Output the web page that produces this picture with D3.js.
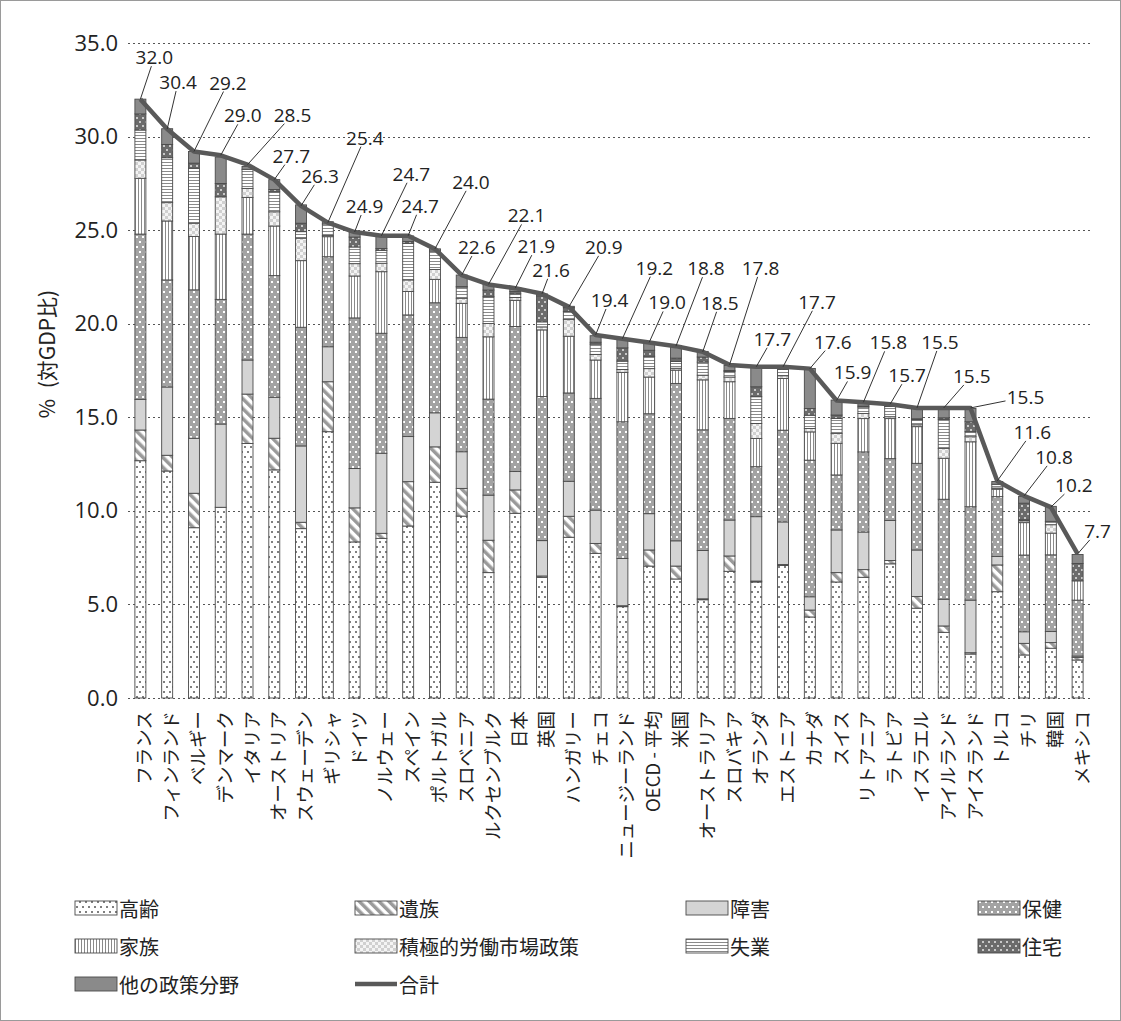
<!DOCTYPE html>
<html><head><meta charset="utf-8">
<script src="https://cdn.jsdelivr.net/npm/d3@7"></script>
<style>
html,body{margin:0;padding:0;background:#fff;}
svg{display:block;}
</style></head>
<body>
<svg id="chart" width="1121" height="1021"></svg>
<script>
const countries = ["フランス","フィンランド","ベルギー","デンマーク","イタリア","オーストリア","スウェーデン","ギリシャ","ドイツ","ノルウェー","スペイン","ポルトガル","スロベニア","ルクセンブルク","日本","英国","ハンガリー","チェコ","ニュージーランド","OECD - 平均","米国","オーストラリア","スロバキア","オランダ","エストニア","カナダ","スイス","リトアニア","ラトビア","イスラエル","アイルランド","アイスランド","トルコ","チリ","韓国","メキシコ"];
const totals = [32.0,30.4,29.2,29.0,28.5,27.7,26.3,25.4,24.9,24.7,24.7,24.0,22.6,22.1,21.9,21.6,20.9,19.4,19.2,19.0,18.8,18.5,17.8,17.7,17.7,17.6,15.9,15.8,15.7,15.5,15.5,15.5,11.6,10.8,10.2,7.7];
const oldAge =       [12.68,12.13,9.10,10.19,13.60,12.19,9.05,14.23,8.34,8.53,9.19,11.53,9.72,6.70,9.87,6.45,8.59,7.73,4.88,7.05,6.36,5.25,6.77,6.20,7.08,4.33,6.20,6.45,7.17,4.80,3.51,2.35,5.68,2.30,2.66,2.03];
const survivors =    [1.64,0.84,1.84,0.00,2.64,1.69,0.34,2.67,1.82,0.27,2.37,1.89,1.48,1.73,1.25,0.07,1.12,0.53,0.05,0.86,0.69,0.05,0.82,0.05,0.05,0.37,0.50,0.41,0.18,0.62,0.34,0.07,1.43,0.62,0.30,0.14];
const disability =   [1.64,3.65,2.94,4.45,1.82,2.19,4.08,1.87,2.10,4.28,2.41,1.82,1.96,2.41,0.98,1.89,1.87,1.78,2.53,1.94,1.35,2.58,1.92,3.44,2.28,0.71,2.28,2.01,2.14,2.49,1.43,2.81,0.45,0.62,0.59,0.07];
const health =       [8.83,5.72,7.93,6.66,6.73,6.50,6.34,4.81,8.05,6.41,6.50,5.88,6.11,5.13,7.75,7.70,4.72,5.97,7.30,5.34,8.41,6.45,5.43,2.67,4.90,7.30,2.94,4.28,3.30,4.63,5.34,4.99,3.20,4.10,4.10,2.99];
const family =       [2.98,3.15,2.85,3.49,1.96,2.65,3.56,1.07,2.24,3.29,1.25,1.25,1.82,3.33,1.40,3.56,3.03,2.05,2.64,1.96,0.71,2.67,1.96,1.51,2.76,1.51,1.69,1.78,2.14,1.96,2.19,3.47,0.40,1.73,1.16,1.03];
const almp =         [0.98,0.98,0.71,1.99,0.48,0.76,1.20,0.06,0.66,0.45,0.62,0.53,0.27,0.71,0.15,0.16,0.89,0.30,0.15,0.45,0.10,0.25,0.25,0.80,0.15,0.18,0.53,0.27,0.10,0.10,0.53,0.27,0.06,0.10,0.45,0.00];
const unemployment = [1.60,2.40,2.94,0.00,1.02,1.07,0.35,0.62,0.89,0.69,1.96,0.98,0.60,1.43,0.20,0.27,0.44,0.55,0.45,0.66,0.36,0.70,0.30,1.43,0.35,0.71,0.80,0.35,0.55,0.27,1.55,0.27,0.20,0.05,0.18,0.00];
const housing =      [0.86,0.71,0.27,0.71,0.00,0.12,0.45,0.00,0.53,0.10,0.10,0.00,0.02,0.36,0.12,1.39,0.20,0.10,0.71,0.32,0.18,0.27,0.05,0.53,0.02,0.36,0.18,0.05,0.02,0.05,0.08,0.53,0.00,0.89,0.00,0.93];
const other =        [0.79,0.84,0.62,1.42,0.15,0.53,0.98,0.12,0.27,0.71,0.29,0.12,0.62,0.30,0.20,0.10,0.07,0.35,0.45,0.41,0.68,0.30,0.27,1.07,0.10,2.14,0.80,0.20,0.10,0.62,0.53,0.71,0.15,0.36,0.80,0.48];
const seriesNames = ["高齢","遺族","障害","保健","家族","積極的労働市場政策","失業","住宅","他の政策分野"];
const totalName = "合計";
const yTicks = [0,5,10,15,20,25,30,35];
const yTitle = "%\u2002(対GDP比)";

// label placement (pixel offsets of value label centre from the line point)
const labelOffsets = [[14,-42],[11,-47],[34,-69],[22,-40],[45,-50],[17,-24],[19,-30],[37,-85],[10,-26],[30,-62],[12,-30],[36,-67],[15,-28],[38,-69],[21,-42],[9,-24],[35,-60],[14,-35],[32,-71],[18,-40],[30,-78],[17,-49],[31,-97],[16,-28],[34,-65],[23,-27],[16,-28],[25,-60],[17,-29],[23,-66],[28,-32],[55,-11],[35,-49],[30,-39],[23,-22],[20,-23]];

const seriesData = [oldAge,survivors,disability,health,family,almp,unemployment,housing,other];
const keys = seriesNames;
const rows = countries.map((c,i)=>{const o={country:c}; keys.forEach((k,j)=>o[k]=seriesData[j][i]); return o;});

const svg = d3.select("#chart");
const defs = svg.append("defs");
const numFont = "'Open Sans','Noto Sans',sans-serif";
const jpFont = "'Noto Sans CJK JP','Noto Sans',sans-serif";

function pat(id,w,h,bg,draw,transform){
  const p = defs.append("pattern").attr("id",id).attr("patternUnits","userSpaceOnUse").attr("width",w).attr("height",h);
  if(transform) p.attr("patternTransform",transform);
  p.append("rect").attr("width",w).attr("height",h).attr("fill",bg);
  draw(p);
}
pat("p0",6,10,"#fff",p=>{p.append("rect").attr("x",1).attr("y",1).attr("width",2).attr("height",2).attr("fill","#7f7f7f");p.append("rect").attr("x",4).attr("y",6).attr("width",2).attr("height",2).attr("fill","#7f7f7f");});
pat("p1",7,7,"#fff",p=>{p.append("rect").attr("x",0).attr("y",0).attr("width",3.5).attr("height",7).attr("fill","#9a9a9a");},"rotate(-45)");
pat("p2",4,4,"#d4d4d4",p=>{});
pat("p3",6,10,"#a3a3a3",p=>{p.append("rect").attr("x",1).attr("y",1).attr("width",2).attr("height",2).attr("fill","#fff");p.append("rect").attr("x",4).attr("y",6).attr("width",2).attr("height",2).attr("fill","#fff");});
pat("p4",3,4,"#fff",p=>{p.append("rect").attr("x",0).attr("y",0).attr("width",1).attr("height",4).attr("fill","#8a8a8a");});
pat("p5",6,6,"#d0d0d0",p=>{p.append("rect").attr("x",0).attr("y",0).attr("width",3).attr("height",3).attr("fill","#f4f4f4");p.append("rect").attr("x",3).attr("y",3).attr("width",3).attr("height",3).attr("fill","#f4f4f4");});
pat("p6",4,3,"#fff",p=>{p.append("rect").attr("x",0).attr("y",0).attr("width",4).attr("height",1).attr("fill","#8a8a8a");});
pat("p7",6,8,"#6b6b6b",p=>{p.append("rect").attr("x",1).attr("y",1).attr("width",2).attr("height",2).attr("fill","#c8c8c8");p.append("rect").attr("x",4).attr("y",5).attr("width",2).attr("height",2).attr("fill","#c8c8c8");});
pat("p8",4,4,"#8a8a8a",p=>{});
const fills = keys.map((k,i)=>`url(#p${i})`);

svg.append("rect").attr("x",0.5).attr("y",0.5).attr("width",1120).attr("height",1020).attr("fill","none").attr("stroke","#9a9a9a");

const x = d3.scaleBand().domain(countries).range([127,1091]).paddingInner(0.59).paddingOuter(0.295);
const y = d3.scaleLinear().domain([0,35]).range([698,43]);

svg.append("g").selectAll("line").data(yTicks).join("line")
  .attr("x1",128).attr("x2",1091).attr("y1",d=>Math.round(y(d))+0.5).attr("y2",d=>Math.round(y(d))+0.5)
  .attr("stroke","#555").attr("stroke-width",1).attr("stroke-dasharray","2,3");

const yAxis = d3.axisLeft(y).tickValues(yTicks).tickFormat(d3.format(".1f")).tickSize(0).tickPadding(0);
const ya = svg.append("g").attr("transform","translate(118,0)").call(yAxis);
ya.select(".domain").remove();
ya.selectAll("text").attr("font-family",numFont).attr("font-size",22).attr("fill","#222");

svg.append("text").attr("transform","translate(46,354) rotate(-90)").attr("text-anchor","middle")
  .attr("dominant-baseline","central").attr("font-family",jpFont).attr("font-size",21).attr("fill","#222").text(yTitle);

const stack = d3.stack().keys(keys)(rows);
const gBars = svg.append("g");
stack.forEach((layer,li)=>{
  gBars.append("g").selectAll("rect").data(layer).join("rect")
    .attr("x",d=>x(d.data.country)).attr("width",x.bandwidth())
    .attr("y",d=>y(d[1])).attr("height",d=>Math.max(0,y(d[0])-y(d[1])))
    .attr("fill",fills[li]).attr("stroke","#4a4a4a").attr("stroke-width",0.9);
});

const cx = c=>x(c)+x.bandwidth()/2;
const line = d3.line().x((d,i)=>cx(countries[i])).y(d=>y(d));
svg.append("path").datum(totals).attr("d",line).attr("fill","none").attr("stroke","#595959").attr("stroke-width",4.5).attr("stroke-linejoin","round");

const gl = svg.append("g");
totals.forEach((t,i)=>{
  const px = cx(countries[i]), py = y(t);
  const [dx,dy] = labelOffsets[i];
  const lx = px+dx, ly = py+dy;
  const hw=20, hh=9;
  const vx = px-lx, vy = py-ly;
  const tt = Math.min(hw/Math.max(Math.abs(vx),1e-6), hh/Math.max(Math.abs(vy),1e-6));
  gl.append("line").attr("x1",lx+vx*tt).attr("y1",ly+vy*tt).attr("x2",px).attr("y2",py)
    .attr("stroke","#333").attr("stroke-width",1);
  gl.append("text").attr("x",lx).attr("y",ly).attr("text-anchor","middle").attr("dominant-baseline","central")
    .attr("font-family",numFont).attr("font-size",19).attr("fill","#222").text(d3.format(".1f")(t));
});

svg.append("g").selectAll("text").data(countries).join("text")
  .attr("transform",d=>`translate(${cx(d)+3},711) rotate(-90)`)
  .attr("text-anchor","end").attr("dominant-baseline","central")
  .attr("font-family",jpFont).attr("font-size",18.5).attr("fill","#222").text(d=>d);

const legendItems = keys.map((k,i)=>({name:k,fill:fills[i],type:"box"})).concat([{name:totalName,type:"line"}]);
const colX = [75,355,686,978], rowY = [908,946,984];
const lg = svg.append("g");
legendItems.forEach((it,i)=>{
  const gx = colX[i%4], gy = rowY[Math.floor(i/4)];
  if(it.type==="box"){
    lg.append("rect").attr("x",gx).attr("y",gy-7).attr("width",42).attr("height",14).attr("fill",it.fill).attr("stroke","#4a4a4a").attr("stroke-width",0.9);
  } else {
    lg.append("line").attr("x1",gx).attr("x2",gx+42).attr("y1",gy).attr("y2",gy).attr("stroke","#595959").attr("stroke-width",4.5);
  }
  lg.append("text").attr("x",gx+44).attr("y",gy).attr("dominant-baseline","central")
    .attr("font-family",jpFont).attr("font-size",20).attr("fill","#222").text(it.name);
});
</script>
</body></html>
